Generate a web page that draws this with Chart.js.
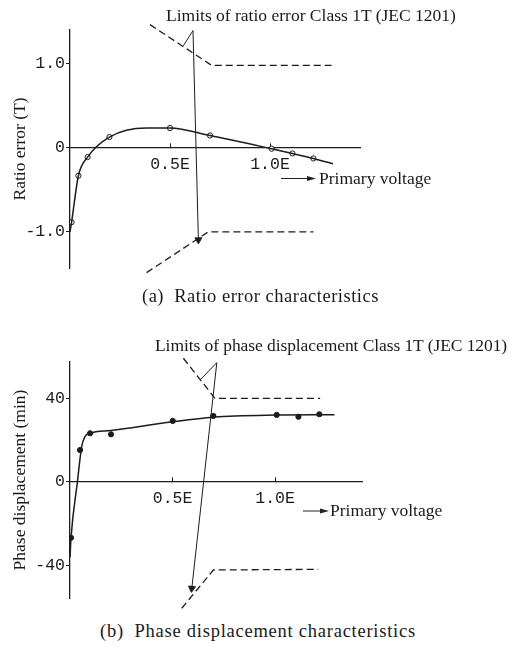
<!DOCTYPE html>
<html>
<head>
<meta charset="utf-8">
<script src="https://cdn.jsdelivr.net/npm/chart.js@4"></script>
<style>
  body { margin: 0; background: #fff; width: 513px; height: 652px; position: relative; overflow: hidden; }
  canvas { position: absolute; left: 0; }
  .txt { position: absolute; font-family: 'Liberation Serif', serif; font-size: 17.5px; line-height: 1; color: #1a1a1a; white-space: nowrap; }
  .cap { font-size: 18.5px; letter-spacing: 0.5px; }
  svg { position: absolute; left: 0; top: 0; }
</style>
</head>
<body>
<canvas id="ratioChart" width="513" height="290" style="top:0"></canvas>
<canvas id="phaseChart" width="513" height="300" style="top:320px"></canvas>

<div class="txt" style="left:166px; top:7px">Limits of ratio error Class 1T (JEC 1201)</div>
<div class="txt" style="left:319px; top:170px">Primary voltage</div>
<div class="txt cap" style="left:142px; top:287px">(a)&nbsp; Ratio error characteristics</div>
<div class="txt" style="left:155px; top:337px; letter-spacing:-0.08px">Limits of phase displacement Class 1T (JEC 1201)</div>
<div class="txt" style="left:330px; top:502px">Primary voltage</div>
<div class="txt cap" style="left:100px; top:622px; letter-spacing:0.75px">(b)&nbsp; Phase displacement characteristics</div>

<svg width="513" height="652">
  <line x1="281" y1="178.5" x2="309" y2="178.5" stroke="#222" stroke-width="1"/>
  <polygon points="307,176 316,178.5 307,181" fill="#222"/>
  <line x1="303" y1="511" x2="321" y2="511" stroke="#222" stroke-width="1"/>
  <polygon points="320,508.5 329,511 320,513.5" fill="#222"/>
</svg>

<script>
Chart.defaults.color = '#1a1a1a';
Chart.defaults.font.family = "'Liberation Mono', monospace";
Chart.defaults.font.size = 16.5;

// (a) ratio error, x in units of E
const ratioPointV = [0.008, 0.042, 0.088, 0.197, 0.5, 0.7, 1.008, 1.112, 1.217];
const ratioPointErr = [-0.885, -0.333, -0.111, 0.127, 0.234, 0.146, -0.012, -0.068, -0.127];
const ratioCurveV = [0, 0.008, 0.042, 0.088, 0.197, 0.38, 0.5, 0.7, 1.008, 1.112, 1.217, 1.315];
const ratioCurveErr = [-1.0, -0.885, -0.333, -0.111, 0.127, 0.235, 0.234, 0.146, -0.012, -0.068, -0.127, -0.19];
const ratioUpperV = [0.40, 0.708, 1.308];
const ratioUpperErr = [1.464, 0.98, 0.98];
const ratioLowerV = [0.383, 0.692, 1.217];
const ratioLowerErr = [-1.485, -1.0, -1.0];
const ratioLeaderV = [0.567, 0.615, 0.642];
const ratioLeaderErr = [1.214, 1.393, -1.095];
const ratioTicks = [-1, 0, 1];
const ratioTickLabels = ['-1.0', '0', '1.0'];

// (b) phase displacement (min)
const phasePointV = [0.005, 0.049, 0.098, 0.2, 0.501, 0.699, 1.008, 1.114, 1.216];
const phasePointMin = [-26.7, 15.3, 23.3, 22.8, 29.2, 31.6, 32.1, 31.2, 32.4];
const phaseCurveV = [0, 0.005, 0.036, 0.057, 0.073, 0.098, 0.2, 0.5, 0.7, 1.0, 1.29];
const phaseCurveMin = [-36, -26.7, 0, 16.9, 21.7, 23.3, 24.6, 28.8, 31.0, 32.0, 32.2];
const phaseUpperV = [0.553, 0.707, 1.22];
const phaseUpperMin = [59.2, 40.0, 40.0];
const phaseLowerV = [0.545, 0.699, 1.211];
const phaseLowerMin = [-60.4, -42.1, -41.8];
const phaseLeaderV = [0.634, 0.716, 0.594];
const phaseLeaderMin = [48.8, 57.1, -50.9];
const phaseTicks = [-40, 0, 40];
const phaseTickLabels = ['-40', '0', '40'];

const voltTicks = [0.5, 1.0];
const voltTickLabels = ['0.5E', '1.0E'];

const ink = '#1c1c1c';
const pairs = (xs, ys) => xs.map((x, i) => ({ x, y: ys[i] }));

const limitSet = (xs, ys) => ({
    data: pairs(xs, ys),
    borderColor: ink,
    borderWidth: 1.3,
    borderDash: [7, 4],
    pointRadius: 0,
    tension: 0,
    clip: false
});

const leaderSet = (xs, ys, rot) => ({
    data: pairs(xs, ys),
    borderColor: ink,
    borderWidth: 1,
    pointRadius: [0, 0, 4],
    pointStyle: 'triangle',
    pointRotation: [0, 0, rot],
    pointBackgroundColor: ink,
    pointBorderColor: ink,
    tension: 0,
    clip: false
});

const makeChart = (id, cfg) => {
    const yLabels = {};
    cfg.yTicks.forEach((v, i) => yLabels[v] = cfg.yTickLabels[i]);
    const xLabels = {};
    voltTicks.forEach((v, i) => xLabels[v] = voltTickLabels[i]);
    new Chart(id, {
        type: 'line',
        data: {
            datasets: [
                {
                    data: pairs(cfg.curveX, cfg.curveY),
                    borderColor: ink,
                    borderWidth: 1.5,
                    pointRadius: 0,
                    cubicInterpolationMode: 'monotone',
                    clip: false
                },
                {
                    data: pairs(cfg.pointX, cfg.pointY),
                    showLine: false,
                    pointRadius: 2.6,
                    pointBorderWidth: 1,
                    pointBorderColor: ink,
                    pointBackgroundColor: cfg.filled ? ink : '#fff'
                },
                limitSet(cfg.upperX, cfg.upperY),
                limitSet(cfg.lowerX, cfg.lowerY),
                leaderSet(cfg.leaderX, cfg.leaderY, cfg.arrowRot)
            ]
        },
        options: {
            responsive: false,
            animation: false,
            layout: { padding: cfg.padding },
            plugins: { legend: { display: false }, tooltip: { enabled: false } },
            scales: {
                x: {
                    type: 'linear',
                    position: { y: 0 },
                    min: 0,
                    max: cfg.xMax,
                    afterBuildTicks: s => { s.ticks = voltTicks.map(v => ({ value: v })); },
                    ticks: { padding: 12, callback: v => xLabels[v] ?? '' , maxRotation: 0 },
                    grid: { display: true, drawOnChartArea: false, drawTicks: true, tickLength: -5, color: ink },
                    border: { display: true, color: ink, width: 1.3 }
                },
                y: {
                    type: 'linear',
                    min: cfg.yMin,
                    max: cfg.yMax,
                    afterBuildTicks: s => { s.ticks = cfg.yTicks.map(v => ({ value: v })); },
                    afterFit: s => { s.width = 70; },
                    ticks: { padding: 1, callback: v => yLabels[v] ?? '' },
                    grid: { display: true, drawOnChartArea: false, drawTicks: true, tickLength: 4, color: ink },
                    border: { display: true, color: ink, width: 1.3 },
                    title: {
                        display: true,
                        text: cfg.yTitle,
                        font: { family: "'Liberation Serif', serif", size: 17.5 },
                        padding: { top: 10, bottom: 0 }
                    }
                }
            }
        }
    });
};

makeChart('ratioChart', {
    curveX: ratioCurveV, curveY: ratioCurveErr,
    pointX: ratioPointV, pointY: ratioPointErr, filled: false,
    upperX: ratioUpperV, upperY: ratioUpperErr,
    lowerX: ratioLowerV, lowerY: ratioLowerErr,
    leaderX: ratioLeaderV, leaderY: ratioLeaderErr, arrowRot: 179,
    yTicks: ratioTicks, yTickLabels: ratioTickLabels,
    yMin: -1.43, yMax: 1.40, xMax: 1.45,
    yTitle: 'Ratio error (T)',
    padding: { left: 0, right: 153, top: 30, bottom: 22 }
});

makeChart('phaseChart', {
    curveX: phaseCurveV, curveY: phaseCurveMin,
    pointX: phasePointV, pointY: phasePointMin, filled: true,
    upperX: phaseUpperV, upperY: phaseUpperMin,
    lowerX: phaseLowerV, lowerY: phaseLowerMin,
    leaderX: phaseLeaderV, leaderY: phaseLeaderMin, arrowRot: 186,
    yTicks: phaseTicks, yTickLabels: phaseTickLabels,
    yMin: -55.5, yMax: 57.4, xMax: 1.424,
    yTitle: 'Phase displacement (min)',
    padding: { left: 0, right: 151, top: 42, bottom: 22 }
});
</script>
</body>
</html>
